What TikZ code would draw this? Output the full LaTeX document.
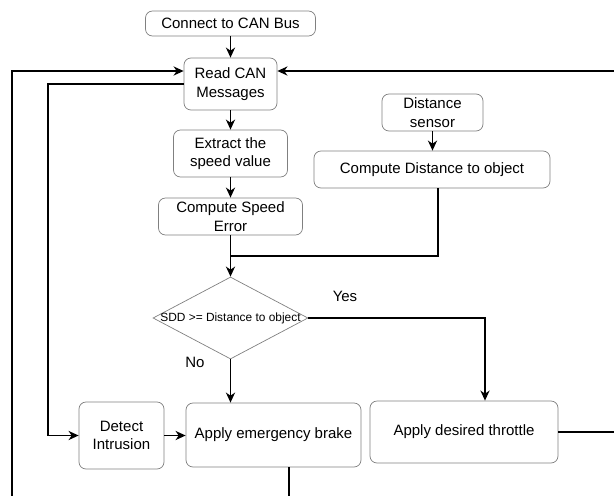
\documentclass[tikz,border=0pt]{standalone}
\usepackage{fontspec}
\setmainfont{Liberation Sans}
\usetikzlibrary{arrows.meta,shapes.geometric}
\begin{document}
\begin{tikzpicture}[x=1pt,y=-1pt,
  box/.style={draw=black!50,line width=0.7pt,rounded corners=7pt,inner sep=0pt,align=center,font=\fontsize{15}{18.5}\selectfont},
  conn/.style={line width=1.8pt,draw=black},
  arr/.style={conn,-{Stealth[length=10pt,width=9pt,inset=3pt]}},
  lbl/.style={font=\fontsize{15}{18}\selectfont,inner sep=0pt}
]
\useasboundingbox (0,0) rectangle (614,496);
\node[box,minimum width=170pt,minimum height=25pt] (connect) at (230.5,23.5) {Connect to CAN Bus};
\node[box,minimum width=93pt,minimum height=52pt] (read) at (230.5,84) {Read CAN\\Messages};
\node[box,minimum width=114pt,minimum height=47pt] (extract) at (230.5,153.5) {Extract the\\speed value};
\node[box,minimum width=144pt,minimum height=37pt] (cse) at (230.5,216.5) {Compute Speed\\Error};
\node[box,minimum width=101pt,minimum height=37pt] (dsen) at (432.5,112.5) {Distance\\sensor};
\node[box,minimum width=236pt,minimum height=37pt] (cdist) at (432,169.5) {Compute Distance to object};
\node[draw=black!50,line width=0.7pt,diamond,minimum width=155pt,minimum height=82pt,inner sep=0pt] (dia) at (230.5,318) {};
\node[inner sep=0pt,font=\fontsize{11.9}{14}\selectfont] (diatext) at (dia.center) {SDD >= Distance to object};
\node[box,minimum width=85pt,minimum height=67pt] (detect) at (121.5,435.5) {Detect\\Intrusion};
\node[box,minimum width=175pt,minimum height=64pt] (brake) at (273.5,435) {Apply emergency brake};
\node[box,minimum width=188pt,minimum height=62pt] (thr) at (464,432) {Apply desired throttle};
\node[lbl] (yes) at (345,296) {Yes};
\node[lbl] (no) at (195,362) {No};
\coordinate (join) at (230.5,256);
\coordinate (leftbot) at (12,496);
\coordinate (righttop) at (614,71);
\coordinate (brakebot) at (289,496);
\coordinate (thrright) at (614,432);

\draw[arr] (connect.south) -- (read.north);
\draw[arr] (read.south) -- (extract.north);
\draw[arr] (extract.south) -- (cse.north);
\draw[arr] (cse.south) -- (dia.north);
\draw[arr] (dsen.south) -- (dsen.south |- cdist.north);
\draw[conn] ([xshift=6pt]cdist.south) |- (join);
\draw[arr] (dia.south) -- (dia.south |- brake.north);
\draw[arr] (dia.east) -| ([xshift=21pt]thr.north);
\draw[arr] (detect.east) -- (detect.east -| brake.west);
\draw[arr] (read.west) -- ++(-136,0) |- (detect.west);
\draw[arr] (leftbot) |- ([yshift=13pt]read.west);
\draw[arr] (righttop) -- ([yshift=13pt]read.east);
\draw[conn] ([xshift=15.5pt]brake.south) -- (brakebot);
\draw[conn] (thr.east) -- (thrright);
\end{tikzpicture}
\end{document}
